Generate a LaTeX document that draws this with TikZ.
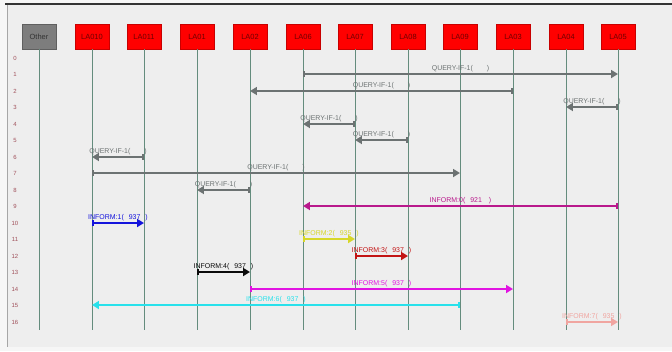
\documentclass[tikz,border=0pt]{standalone}
\usepackage{fontspec}
\setmainfont{Liberation Sans}
\usetikzlibrary{arrows.meta}
\definecolor{bgc}{RGB}{238,238,238}
\definecolor{outerc}{RGB}{246,246,246}
\definecolor{boxborder}{RGB}{200,0,0}
\definecolor{boxtext}{RGB}{110,0,0}
\definecolor{othfill}{RGB}{125,125,125}
\definecolor{othborder}{RGB}{95,95,95}
\definecolor{lifec}{RGB}{100,140,125}
\definecolor{rowc}{RGB}{160,80,90}
\definecolor{qgray}{RGB}{108,114,114}
\definecolor{cmag0}{RGB}{185,25,140}
\definecolor{cblue}{RGB}{20,20,220}
\definecolor{cyel}{RGB}{215,215,40}
\definecolor{cred}{RGB}{195,20,20}
\definecolor{cblack}{RGB}{10,10,10}
\definecolor{cmag}{RGB}{225,20,225}
\definecolor{ccyan}{RGB}{40,225,235}
\definecolor{cpink}{RGB}{240,165,160}
\begin{document}
\begin{tikzpicture}[x=1bp,y=-1bp,
  box/.style={draw=boxborder, fill=red, minimum width=34bp, minimum height=25bp, inner sep=0pt,
    font=\fontsize{7.5}{8}\selectfont, text=boxtext},
  othbox/.style={box, draw=othborder, fill=othfill, text=black!80},
  life/.style={draw=lifec, line width=1bp},
  rowlbl/.style={font=\fontsize{6}{7}\selectfont, text=rowc, inner sep=0pt},
  msg/.style={line width=2bp, {Rectangle[length=2.5pt,width=6pt]}-{Triangle[length=7pt,width=8pt]}},
  lbl/.style={font=\fontsize{7}{8}\selectfont, inner sep=1.2pt, above}
]
\useasboundingbox (0,0) rectangle (672,351);
\fill[outerc] (0,0) rectangle (672,351);
\fill[bgc] (8,5) rectangle (672,347);
\draw[gray!70, line width=1bp] (7.5,5) -- (7.5,347);
\draw[black!80, line width=2bp] (5,4) -- (672,4);

% participants
\node[othbox] (Other) at (39,36.5) {Other};
\node[box] (LA010) at (92,36.5) {LA010};
\node[box] (LA011) at (144,36.5) {LA011};
\node[box] (LA01) at (197,36.5) {LA01};
\node[box] (LA02) at (250,36.5) {LA02};
\node[box] (LA06) at (303,36.5) {LA06};
\node[box] (LA07) at (355,36.5) {LA07};
\node[box] (LA08) at (408,36.5) {LA08};
\node[box] (LA09) at (460,36.5) {LA09};
\node[box] (LA03) at (513,36.5) {LA03};
\node[box] (LA04) at (566,36.5) {LA04};
\node[box] (LA05) at (618,36.5) {LA05};

\coordinate (lifeend) at (0,330);
\foreach \p in {Other,LA010,LA011,LA01,LA02,LA06,LA07,LA08,LA09,LA03,LA04,LA05}
  \draw[life] (\p.south) -- (\p |- lifeend);

% row numbers (rows on integer pixel centres)
\foreach \k/\yy in {0/58,1/74,2/91,3/107,4/124,5/140,6/157,7/173,8/190,9/206,10/223,11/239,12/256,13/272,14/289,15/305,16/322}
  \node[rowlbl] (r\k) at (15,\yy) {\k};

% queries
\draw[msg, qgray] (LA06 |- r1) -- node[lbl]{QUERY-IF-1(\hspace{14pt})} (LA05 |- r1);
\draw[msg, qgray] (LA03 |- r2) -- node[lbl]{QUERY-IF-1(\hspace{14pt})} (LA02 |- r2);
\draw[msg, qgray] (LA05 |- r3) -- node[lbl]{QUERY-IF-1(\hspace{14pt})} (LA04 |- r3);
\draw[msg, qgray] (LA07 |- r4) -- node[lbl]{QUERY-IF-1(\hspace{14pt})} (LA06 |- r4);
\draw[msg, qgray] (LA08 |- r5) -- node[lbl]{QUERY-IF-1(\hspace{14pt})} (LA07 |- r5);
\draw[msg, qgray] (LA011 |- r6) -- node[lbl]{QUERY-IF-1(\hspace{14pt})} (LA010 |- r6);
\draw[msg, qgray] (LA010 |- r7) -- node[lbl]{QUERY-IF-1(\hspace{14pt})} (LA09 |- r7);
\draw[msg, qgray] (LA02 |- r8) -- node[lbl]{QUERY-IF-1(\hspace{14pt})} (LA01 |- r8);

% informs
\draw[msg, cmag0] (LA05 |- r9) -- node[lbl]{INFORM:0(\hspace{5pt}921\hspace{7pt})} (LA06 |- r9);
\draw[msg, cblue] (LA010 |- r10) -- node[lbl]{INFORM:1(\hspace{5pt}937\hspace{5pt})} (LA011 |- r10);
\draw[msg, cyel] (LA06 |- r11) -- node[lbl]{INFORM:2(\hspace{5pt}935\hspace{5pt})} (LA07 |- r11);
\draw[msg, cred] (LA07 |- r12) -- node[lbl]{INFORM:3(\hspace{5pt}937\hspace{5pt})} (LA08 |- r12);
\draw[msg, cblack] (LA01 |- r13) -- node[lbl]{INFORM:4(\hspace{5pt}937\hspace{5pt})} (LA02 |- r13);
\draw[msg, cmag] (LA02 |- r14) -- node[lbl]{INFORM:5(\hspace{5pt}937\hspace{5pt})} (LA03 |- r14);
\draw[msg, ccyan] (LA09 |- r15) -- node[lbl]{INFORM:6(\hspace{5pt}937\hspace{5pt})} (LA010 |- r15);
\draw[msg, cpink, line width=1.6bp] (LA04 |- r16) -- node[lbl]{INFORM:7(\hspace{5pt}935\hspace{5pt})} (LA05 |- r16);
\end{tikzpicture}
\end{document}
